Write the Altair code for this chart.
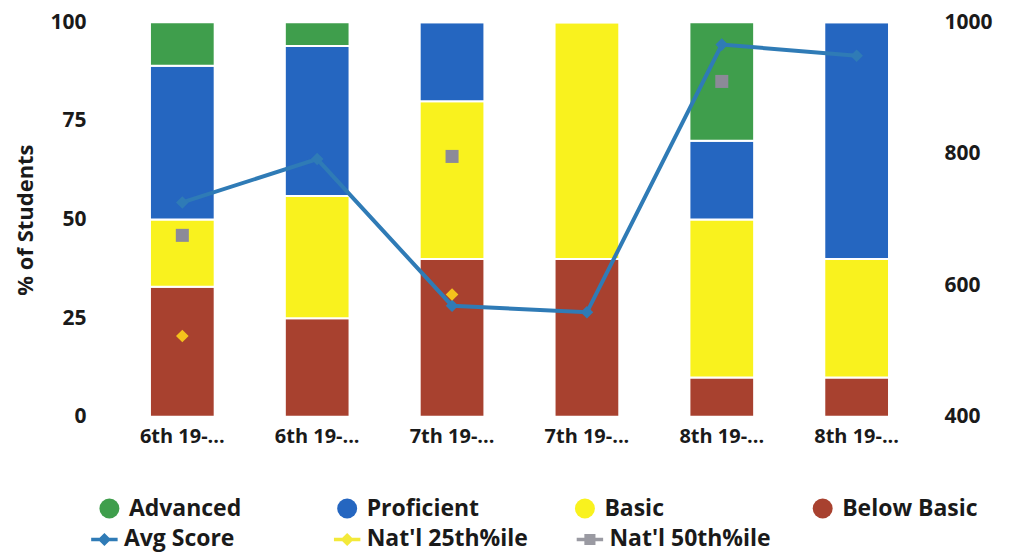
import altair as alt
import pandas as pd

# ---- data ----
cat_keys = ["6th 19-...#1", "6th 19-...#2", "7th 19-...#3", "7th 19-...#4", "8th 19-...#5", "8th 19-...#6"]
levels = ["Advanced", "Proficient", "Basic", "Below Basic"]
level_colors = ["#3f9e4c", "#2566c0", "#f9f21e", "#a8412f"]
advanced = [11, 6, 0, 0, 30, 0]
proficient = [39, 38, 20, 0, 20, 60]
basic = [17, 31, 40, 60, 40, 30]
below_basic = [33, 25, 40, 40, 10, 10]
avg_score = [726, 792, 569, 559, 966, 949]
natl_25th = [20.5, None, 31, None, None, None]
natl_50th = [46, None, 66, None, 85, None]
series = ["Avg Score", "Nat'l 25th%ile", "Nat'l 50th%ile"]
series_colors = ["#2f7bb6", "#f3e93a", "#9a9aa2"]
series_paths = [
    "M-1,-0.14H1V0.14H-1Z M0,-0.5L0.5,0L0,0.5L-0.5,0Z",
    "M-1,-0.14H1V0.14H-1Z M0,-0.5L0.5,0L0,0.5L-0.5,0Z",
    "M-1,-0.14H1V0.14H-1Z M-0.42,-0.42H0.42V0.42H-0.42Z",
]

rows = []
for i, c in enumerate(cat_keys):
    for lv, vals, rank in [("Below Basic", below_basic, 0), ("Basic", basic, 1),
                           ("Proficient", proficient, 2), ("Advanced", advanced, 3)]:
        rows.append({"cat": c, "level": lv, "pct": vals[i], "rank": rank})
bars_df = pd.DataFrame(rows)
score_df = pd.DataFrame({"cat": cat_keys, "score": avg_score})
p25_df = pd.DataFrame({"cat": cat_keys, "pct": natl_25th}).dropna()
p50_df = pd.DataFrame({"cat": cat_keys, "pct": natl_50th}).dropna()
legend_df = pd.DataFrame({"series": series})

FONT = "Open Sans"

x_enc = alt.X("cat:N", sort=cat_keys, title=None,
              scale=alt.Scale(paddingInner=0.52, paddingOuter=0.26),
              axis=alt.Axis(labelAngle=0, labelExpr="split(datum.label, '#')[0]",
                            labelFontSize=20, labelPadding=10))

bars = alt.Chart(bars_df).mark_bar(stroke="white", strokeWidth=2).encode(
    x=x_enc,
    y=alt.Y("pct:Q", stack="zero", title="% of Students",
            scale=alt.Scale(domain=[0, 100]),
            axis=alt.Axis(values=[0, 25, 50, 75, 100], labelPadding=29,
                          titleFontSize=22, titlePadding=12)),
    color=alt.Color("level:N", scale=alt.Scale(domain=levels, range=level_colors),
                    legend=alt.Legend(title=None, orient="none", legendX=-17, legendY=475,
                                      direction="horizontal", columns=4, gridAlign="all",
                                      columnPadding=71, symbolType="circle", symbolSize=400,
                                      symbolStrokeWidth=0, labelFontSize=23, labelOffset=8,
                                      labelLimit=300,
                                      labelFont=FONT, labelFontWeight="bold", padding=0)),
    order=alt.Order("rank:Q"),
)

line = alt.Chart(score_df).mark_line(
    color="#2f7bb6", strokeWidth=4,
    point=alt.OverlayMarkDef(shape="diamond", size=160, color="#2f7bb6", filled=True),
).encode(
    x=alt.X("cat:N", sort=cat_keys),
    y=alt.Y("score:Q", title=None, scale=alt.Scale(domain=[400, 1000]),
            axis=alt.Axis(orient="right", values=[400, 600, 800, 1000], format="d",
                          labelPadding=20)),
)

p25 = alt.Chart(p25_df).mark_point(shape="diamond", filled=True, size=160,
                                   color="#f4c21c", opacity=1).encode(
    x=alt.X("cat:N", sort=cat_keys),
    y=alt.Y("pct:Q", scale=alt.Scale(domain=[0, 100]), axis=None),
)

p50 = alt.Chart(p50_df).mark_point(shape="square", filled=True, size=170,
                                   color="#8c8a98", opacity=1).encode(
    x=alt.X("cat:N", sort=cat_keys),
    y=alt.Y("pct:Q", scale=alt.Scale(domain=[0, 100]), axis=None),
)

leg_props = dict(title=None, orient="none", legendX=-24, legendY=504,
                 direction="horizontal", columns=3, gridAlign="all",
                 columnPadding=48, symbolSize=700, symbolStrokeWidth=0,
                 labelFontSize=23, labelOffset=6, labelFont=FONT, labelLimit=300,
                 labelFontWeight="bold", padding=0)

legend_layer = alt.Chart(legend_df).mark_point(filled=True, opacity=1).encode(
    color=alt.Color("series:N", scale=alt.Scale(domain=series, range=series_colors),
                    legend=alt.Legend(**leg_props)),
    shape=alt.Shape("series:N", scale=alt.Scale(domain=series, range=series_paths),
                    legend=alt.Legend(**leg_props)),
).transform_filter("false")

chart = alt.layer(bars, line, p25, p50, legend_layer).resolve_scale(
    y="independent", color="independent", shape="independent"
).properties(
    width=810, height=395,
    autosize=alt.AutoSizeParams(type="none"),
    padding={"left": 107, "top": 14, "right": 80, "bottom": 135},
).configure_view(stroke=None).configure_axis(
    domain=False, ticks=False, grid=False,
    labelFont=FONT, labelFontWeight="bold", labelFontSize=21, labelColor="#1a1a1a",
    titleFont=FONT, titleFontWeight="bold", titleColor="#1a1a1a",
).configure_legend(labelColor="#1a1a1a")

chart.save("out.html", embed_options={"renderer": "svg", "actions": False})
